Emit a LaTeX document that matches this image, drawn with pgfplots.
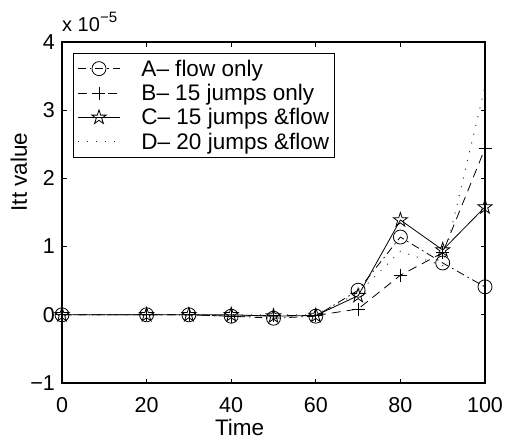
\documentclass[border=0pt]{standalone}
\usepackage{fontspec}
\setmainfont{Liberation Sans}
\usepackage{pgfplots}
\pgfplotsset{compat=1.18}
\pgfdeclareplotmark{pentagram}{%
  \pgfpathmoveto{\pgfpointpolar{90}{\pgfplotmarksize}}%
  \pgfpathlineto{\pgfpointpolar{126}{0.382*\pgfplotmarksize}}%
  \pgfpathlineto{\pgfpointpolar{162}{\pgfplotmarksize}}%
  \pgfpathlineto{\pgfpointpolar{198}{0.382*\pgfplotmarksize}}%
  \pgfpathlineto{\pgfpointpolar{234}{\pgfplotmarksize}}%
  \pgfpathlineto{\pgfpointpolar{270}{0.382*\pgfplotmarksize}}%
  \pgfpathlineto{\pgfpointpolar{306}{\pgfplotmarksize}}%
  \pgfpathlineto{\pgfpointpolar{342}{0.382*\pgfplotmarksize}}%
  \pgfpathlineto{\pgfpointpolar{18}{\pgfplotmarksize}}%
  \pgfpathlineto{\pgfpointpolar{54}{0.382*\pgfplotmarksize}}%
  \pgfpathclose
  \pgfusepathqstroke
}
\newcommand{\tickf}{\fontsize{21.5}{25}\selectfont}
\newcommand{\bigf}{\fontsize{22.5}{26}\selectfont}
\begin{document}
\begin{tikzpicture}
\useasboundingbox (-62pt,-56pt) rectangle (444pt,383pt);
\begin{axis}[
  at={(0pt,0pt)}, anchor=south west,
  scale only axis, width=423pt, height=341pt,
  xmin=0, xmax=100, ymin=-1, ymax=4,
  xtick={0,20,40,60,80,100}, xticklabels={0,20,40,60,80,100},
  ytick={-1,0,1,2,3,4}, yticklabels={−1,0,1,2,3,4},
  tick align=inside, major tick length=4.5pt,
  axis line style={line width=1.2pt},
  every tick/.style={line width=1pt, black},
  tick label style={font=\tickf},
  xticklabel style={anchor=base, yshift=-29pt},
  yticklabel style={anchor=east, inner xsep=7pt},
  xlabel={Time}, ylabel={Itt value},
  xlabel style={font=\bigf, at={(axis description cs:0.42,0)}, anchor=base, yshift=-52pt},
  ylabel style={font=\bigf, at={(axis description cs:0,0.619)}, anchor=base, yshift=35pt},
  legend cell align=left,
  legend image code/.code={\draw[mark repeat=2,mark phase=2,#1] plot coordinates {(0pt,0pt) (21pt,0pt) (42pt,0pt)};},
  legend style={at={(rel axis cs:0.026,0.968)}, anchor=north west, draw=black, line width=1pt,
    fill=white, font=\bigf, inner xsep=4pt, inner ysep=3pt,
    nodes={inner xsep=1pt, inner ysep=3.3pt},
    /tikz/every odd column/.append style={column sep=20pt}},
]
\addplot[black, line width=0.8pt, dash pattern=on 8pt off 4pt on 1.5pt off 4pt, mark=o, mark size=7pt, mark options={solid}]
  coordinates {(0,0) (20,0) (30,0) (40,-0.02) (50,-0.05) (60,-0.02) (70,0.36) (80,1.14) (90,0.76) (100,0.41)};
\addlegendentry{A– flow only}
\addplot[black, line width=0.8pt, dash pattern=on 9pt off 6pt, mark=+, mark size=6.5pt, mark options={solid}]
  coordinates {(0,0) (20,0) (30,0) (40,-0.02) (50,-0.01) (60,-0.01) (70,0.085) (80,0.58) (90,0.91) (100,2.44)};
\addlegendentry{B– 15 jumps only}
\addplot[black, line width=0.8pt, mark=pentagram, mark size=7.5pt]
  coordinates {(0,0) (20,0) (30,0) (40,0) (50,-0.02) (60,-0.01) (70,0.28) (80,1.39) (90,0.95) (100,1.58)};
\addlegendentry{C– 15 jumps \&flow}
\addplot[black!80, line width=1pt, dash pattern=on 1pt off 8pt]
  coordinates {(0,0) (20,0) (30,0) (40,0) (50,0) (60,0) (70,0.32) (80,0.93) (90,0.72) (100,3.35)};
\addlegendentry{D– 20 jumps \&flow}
\end{axis}
\node[anchor=base west, inner sep=0pt] at (0pt,351pt) {\fontsize{20}{22}\selectfont x 10\raisebox{9pt}{\fontsize{15}{16}\selectfont −5}};
\end{tikzpicture}
\end{document}
